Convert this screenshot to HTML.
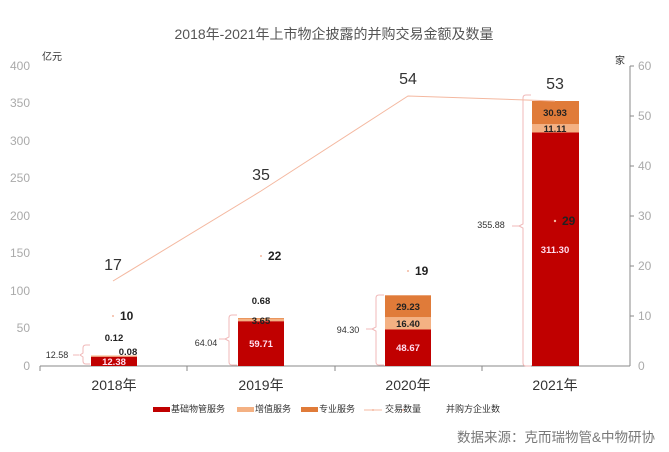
<!DOCTYPE html>
<html><head><meta charset="utf-8"><style>
body{margin:0;background:#fff}
svg{display:block;font-family:"Liberation Sans","Noto Sans CJK SC",sans-serif}
</style></head><body>
<svg width="669" height="452" viewBox="0 0 669 452">
<rect width="669" height="452" fill="#fff"/>
<text x="334" y="39" font-size="14" fill="#555" text-anchor="middle">2018年-2021年上市物企披露的并购交易金额及数量</text>
<text x="52" y="60" font-size="10" fill="#333" text-anchor="middle">亿元</text>
<text x="620" y="64" font-size="10" fill="#333" text-anchor="middle">家</text>
<g font-size="12" fill="#aaa" text-anchor="end">
<text x="30" y="370">0</text><text x="30" y="332">50</text><text x="30" y="295">100</text><text x="30" y="257">150</text><text x="30" y="220">200</text><text x="30" y="182">250</text><text x="30" y="145">300</text><text x="30" y="107">350</text><text x="30" y="70">400</text>
</g>
<g font-size="12" fill="#aaa">
<text x="638" y="370">0</text><text x="638" y="320">10</text><text x="638" y="270">20</text><text x="638" y="220">30</text><text x="638" y="170">40</text><text x="638" y="120">50</text><text x="638" y="70">60</text>
</g>
<g stroke="#888" stroke-width="1">
<line x1="40" y1="366" x2="630" y2="366"/>
<line x1="630" y1="66" x2="630" y2="366"/>
<line x1="40" y1="366" x2="40" y2="371"/><line x1="187" y1="366" x2="187" y2="371"/><line x1="335" y1="366" x2="335" y2="371"/><line x1="482" y1="366" x2="482" y2="371"/>
<line x1="630" y1="66" x2="634" y2="66"/><line x1="630" y1="116" x2="634" y2="116"/><line x1="630" y1="166" x2="634" y2="166"/><line x1="630" y1="216" x2="634" y2="216"/><line x1="630" y1="266" x2="634" y2="266"/><line x1="630" y1="316" x2="634" y2="316"/>
</g>
<rect x="91" y="356.7" width="46" height="9.3" fill="#c00000"/>
<rect x="91" y="355.5" width="46" height="1.2" fill="#f4b183"/>
<rect x="238" y="321.2" width="46" height="44.8" fill="#c00000"/>
<rect x="238" y="318.5" width="46" height="2.7" fill="#f4b183"/>
<rect x="238" y="318" width="46" height="0.5" fill="#e07b39"/>
<rect x="385" y="329.5" width="46" height="36.5" fill="#c00000"/>
<rect x="385" y="317.2" width="46" height="12.3" fill="#f4b183"/>
<rect x="385" y="295.3" width="46" height="21.9" fill="#e07b39"/>
<rect x="532" y="132.5" width="47" height="233.5" fill="#c00000"/>
<rect x="532" y="124.2" width="47" height="8.3" fill="#f4b183"/>
<rect x="532" y="101" width="47" height="23.2" fill="#e07b39"/>
<g fill="none" stroke="#f0b8b8" stroke-width="1">
<path d="M90 345 h-4 q-3 0 -3 3 v5 l-3 2 l3 2 v4 q0 3 3 3 h4"/>
<path d="M237 315 h-5 q-3 0 -3 3 v19 l-4 2 l4 2 v21 q0 3 3 3 h5"/>
<path d="M384 295 h-5 q-3 0 -3 3 v29 l-4 2 l4 2 v31 q0 3 3 3 h5"/>
<path d="M531 95 h-5 q-3 0 -3 3 v126 l-4 2 l4 2 v135 q0 3 3 3 h5"/>
<line x1="73" y1="355" x2="79" y2="355"/><line x1="219" y1="339" x2="225" y2="339"/><line x1="366" y1="329" x2="372" y2="329"/><line x1="512" y1="226" x2="519" y2="226"/>
</g>
<g font-size="9" fill="#333" text-anchor="middle">
<text x="57" y="358">12.58</text><text x="206" y="346">64.04</text><text x="348" y="333">94.30</text><text x="491" y="228">355.88</text>
</g>
<polyline points="113,281 261,191 408,96 555,101" fill="none" stroke="#f4b8a0" stroke-width="1"/>
<g font-size="16" fill="#333" text-anchor="middle">
<text x="113" y="270">17</text><text x="261" y="180">35</text><text x="408" y="84">54</text><text x="555" y="89">53</text>
</g>
<g fill="#f4b8a0"><circle cx="113" cy="316" r="1"/><circle cx="261" cy="256" r="1"/><circle cx="408" cy="271" r="1"/><circle cx="555" cy="221" r="1.2"/></g>
<g font-size="12" font-weight="bold" fill="#222">
<text x="120" y="320">10</text><text x="268" y="260">22</text><text x="415" y="275">19</text><text x="562" y="225">29</text>
</g>
<g font-size="9.5" font-weight="bold" text-anchor="middle">
<text x="114" y="341" fill="#222">0.12</text>
<text x="128" y="355" fill="#222">0.08</text>
<text x="114" y="365" fill="#fde">12.38</text>
<text x="261" y="304" fill="#222">0.68</text>
<text x="261" y="324" fill="#222">3.65</text>
<text x="261" y="347" fill="#fde">59.71</text>
<text x="408" y="310" fill="#222">29.23</text>
<text x="408" y="327" fill="#222">16.40</text>
<text x="408" y="351" fill="#fde">48.67</text>
<text x="555" y="116" fill="#222">30.93</text>
<text x="555" y="132" fill="#222">11.11</text>
<text x="555" y="253" fill="#fde">311.30</text>
</g>
<g font-size="14" fill="#333" text-anchor="middle">
<text x="114" y="390">2018年</text><text x="261" y="390">2019年</text><text x="408" y="390">2020年</text><text x="555" y="390">2021年</text>
</g>
<g font-size="9" fill="#333">
<rect x="153" y="407" width="17" height="5" fill="#c00000"/><text x="171" y="412">基础物管服务</text>
<rect x="237" y="407" width="17" height="5" fill="#f4b183"/><text x="255" y="412">增值服务</text>
<rect x="301" y="407" width="17" height="5" fill="#e07b39"/><text x="319" y="412">专业服务</text>
<line x1="364" y1="410" x2="382" y2="410" stroke="#f4b8a0"/><circle cx="373" cy="410" r="1" fill="#f4b8a0"/><text x="385" y="412">交易数量</text>
<circle cx="403" cy="410" r="1" fill="#f4b8a0"/><text x="446" y="412">并购方企业数</text>
</g>
<text x="655" y="442" font-size="13.5" fill="#777" text-anchor="end">数据来源：克而瑞物管&amp;中物研协</text>
</svg>
</body></html>
